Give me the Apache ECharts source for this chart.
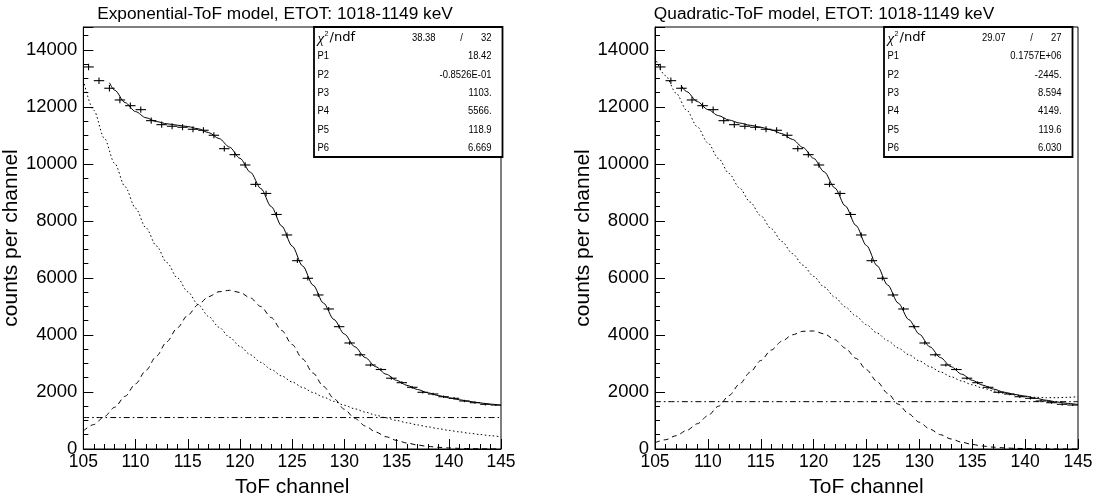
<!DOCTYPE html>
<html><head><meta charset="utf-8">
<script src="https://cdn.jsdelivr.net/npm/echarts@6/dist/echarts.min.js"></script>
<style>html,body{margin:0;padding:0;background:#fff}#c{width:1099px;height:504px}</style>
</head><body><div id="c"></div>
<script>
// ---- data ----
const binCenters = [105.5,106.5,107.5,108.5,109.5,110.5,111.5,112.5,113.5,114.5,115.5,116.5,117.5,118.5,119.5,120.5,121.5,122.5,123.5,124.5,125.5,126.5,127.5,128.5,129.5,130.5,131.5,132.5,133.5,134.5,135.5,136.5,137.5,138.5,139.5,140.5,141.5,142.5,143.5,144.5];
const counts = [13399,12918,12652,12241,12041,11901,11515,11375,11319,11284,11214,11178,11003,10533,10323,9961,9281,8962,8225,7506,6605,5987,5402,4911,4290,3718,3304,2946,2788,2483,2326,2164,1989,1929,1834,1778,1684,1624,1568,1543];
const errors = [116,114,112,111,110,109,107,107,106,106,106,106,105,103,102,100,96,95,91,87,81,77,73,70,65,61,57,54,53,50,48,47,45,44,43,42,41,40,40,39];

const curveX = [105,106,107,108,109,110,111,112,113,114,115,116,117,118,119,120,121,122,123,124,125,126,127,128,129,130,131,132,133,134,135,136,137,138,139,140,141,142,143,144,145];
const leftExp = [12935,11878,10907,10016,9197,8445,7755,7121,6539,6005,5514,5063,4649,4269,3920,3600,3306,3036,2788,2560,2351,2159,1982,1820,1671,1535,1409,1294,1188,1091,1002,920,845,776,713,654,601,552,507,465,427];
const leftGaus = [634,857,1133,1464,1849,2285,2759,3259,3764,4249,4691,5064,5345,5516,5565,5491,5297,4996,4608,4155,3663,3158,2662,2194,1768,1393,1073,809,595,429,302,208,140,92,59,37,23,14,8,5,3];
const leftConst = [1103,1103];
const constX = [105,145];
const totalX = [107.5,108,109,110,111,112,113,114,115,116,117,118,119,120,121,122,123,124,125,126,127,128,129,130,131,132,133,134,135,136,137,138,139,140,141,142,143,144,145];
const leftTotal = [12846,12583,12149,11833,11617,11483,11406,11357,11308,11230,11097,10888,10588,10194,9706,9135,8499,7818,7117,6420,5747,5117,4542,4031,3585,3206,2886,2623,2407,2231,2088,1971,1875,1794,1727,1669,1618,1573,1533];

const rightQuad = [13724,13092,12478,11880,11300,10737,10192,9663,9152,8658,8181,7721,7278,6853,6445,6054,5680,5323,4984,4661,4356,4068,3798,3544,3308,3089,2887,2702,2534,2384,2251,2135,2036,1954,1890,1842,1812,1799,1800,1812,1835];
const rightGaus = [221,326,467,652,885,1168,1500,1875,2279,2696,3102,3472,3781,4005,4128,4140,4039,3833,3539,3179,2779,2362,1954,1572,1231,938,695,501,351,240,159,103,65,39,23,14,8,4,2,1,0];
const rightConst = [1660,1660];
const rightTotal = [12731,12532,12185,11905,11692,11538,11431,11354,11283,11193,11059,10858,10573,10194,9719,9156,8523,7840,7135,6430,5752,5116,4539,4027,3582,3203,2885,2624,2410,2238,2101,1993,1913,1856,1780,1710,1650,1600,1560];

const xTickValues = [105,110,115,120,125,130,135,140,145];
const yTickValues = [0,2000,4000,6000,8000,10000,12000,14000];
const titles = ['Exponential-ToF model, ETOT: 1018-1149 keV','Quadratic-ToF model, ETOT: 1018-1149 keV'];
const statLabels = ['P1','P2','P3','P4','P5','P6'];
const leftChi = ['38.38','32'];
const leftPars = ['18.42','-0.8526E-01','1103.','5566.','118.9','6.669'];
const rightChi = ['29.07','27'];
const rightPars = ['0.1757E+06','-2445.','8.594','4149.','119.6','6.030'];
const xName = 'ToF channel';
const yName = 'counts per channel';

// ---- chart ----
const FONT = 'Liberation Sans, Arial, Helvetica, sans-serif';
const zip = (xs, ys) => xs.map((x, i) => [x, ys[i]]);
const histData = binCenters.map((x, i) => [x, counts[i], errors[i]]);

function renderErr(params, api) {
  const x = api.value(0), y = api.value(1), e = api.value(2);
  const l = api.coord([x - 0.5, y]), r = api.coord([x + 0.5, y]);
  const t = api.coord([x, y + e]), b = api.coord([x, y - e]);
  return {type: 'group', children: [
    {type: 'line', shape: {x1: l[0], y1: l[1], x2: r[0], y2: r[1]}, style: {stroke: '#000', lineWidth: 1.1}},
    {type: 'line', shape: {x1: t[0], y1: t[1], x2: b[0], y2: b[1]}, style: {stroke: '#000', lineWidth: 1.1}}
  ]};
}

const grids = [
  {left: 80, top: 27, width: 421, height: 422},
  {left: 655, top: 27, width: 423, height: 422}
];

function xAxisFor(i) {
  return {
    type: 'value', gridIndex: i, min: 105, max: 145, interval: 5,
    axisLine: {show: true, onZero: false, lineStyle: {color: '#000', width: 1}},
    axisTick: {show: true, inside: true, length: 10, lineStyle: {color: '#000', width: 1}},
    minorTick: {show: true, splitNumber: 5, length: 5, lineStyle: {color: '#000', width: 1}},
    splitLine: {show: false},
    axisLabel: {color: '#000', fontSize: 17.5, fontFamily: FONT, margin: 4,
      formatter: v => xTickValues.includes(v) ? String(v) : ''},
    name: xName, nameLocation: 'middle', nameGap: 28,
    nameTextStyle: {color: '#000', fontSize: 21, fontFamily: FONT}
  };
}
function yAxisFor(i) {
  return {
    type: 'value', gridIndex: i, min: 0, max: 14800, interval: 2000,
    axisLine: {show: true, onZero: false, lineStyle: {color: '#000', width: 1}},
    axisTick: {show: true, inside: true, length: 10, lineStyle: {color: '#000', width: 1}},
    minorTick: {show: true, splitNumber: 4, length: 5, lineStyle: {color: '#000', width: 1}},
    splitLine: {show: false},
    axisLabel: {color: '#000', fontSize: 18.5, fontFamily: FONT, margin: 6,
      formatter: v => yTickValues.includes(v) ? String(v) : ''},
    name: yName, nameLocation: 'middle', nameGap: 45, nameRotate: 90,
    nameTextStyle: {color: '#000', fontSize: 21, fontFamily: FONT}
  };
}

function lineSeries(i, data, dash, z) {
  return {type: 'line', xAxisIndex: i, yAxisIndex: i, data: data, showSymbol: false, symbol: 'none',
    smooth: 0.3, smoothMonotone: 'x', silent: true, z: z || 2,
    lineStyle: {color: '#000', width: 1, type: dash}};
}

const series = [];
series.push(lineSeries(0, zip(curveX, leftExp), [1.5, 2.5]));
series.push(lineSeries(0, zip(curveX, leftGaus), [5, 4]));
series.push(lineSeries(0, zip(constX, leftConst), [6, 3, 1.5, 3]));
series.push(lineSeries(0, zip(totalX, leftTotal), 'solid', 3));
series.push({type: 'custom', xAxisIndex: 0, yAxisIndex: 0, data: histData, renderItem: renderErr, silent: true, z: 4});
series.push(lineSeries(1, zip(curveX, rightQuad), [1.5, 2.5]));
series.push(lineSeries(1, zip(curveX, rightGaus), [5, 4]));
series.push(lineSeries(1, zip(constX, rightConst), [6, 3, 1.5, 3]));
series.push(lineSeries(1, zip(totalX, rightTotal), 'solid', 3));
series.push({type: 'custom', xAxisIndex: 1, yAxisIndex: 1, data: histData, renderItem: renderErr, silent: true, z: 4});

function txt(x, y, text, align, font, sx) {
  return {type: 'text', x: x, y: y, z: 100, scaleX: sx || 1,
    style: {text: text, font: font, fill: '#000', align: align, verticalAlign: 'middle',
            textAlign: align, textVerticalAlign: 'middle'}};
}
function statsBox(x0, y0, w, h, chi, pars) {
  const els = [];
  els.push({type: 'rect', z: 90, shape: {x: x0, y: y0, width: w, height: h},
    style: {fill: '#fff', stroke: '#000', lineWidth: 1.8}});
  const f = '11.5px ' + FONT;
  const SX = 0.82;
  const lx = x0 + 3.5, rx = x0 + w - 11;
  const rowY = k => y0 + 11 + 18.3 * k;
  els.push(txt(lx, rowY(0) + 1, 'χ', 'left', 'italic 15px Liberation Serif, serif'));
  els.push(txt(lx + 7, rowY(0) - 4, '2', 'left', '7px ' + FONT));
  els.push(txt(lx + 12, rowY(0), '/ndf', 'left', '12.5px DejaVu Sans, sans-serif', 1.05));
  els.push(txt(rx - 56, rowY(0), chi[0], 'right', f, SX));
  els.push(txt(rx - 30, rowY(0), '/', 'center', f, SX));
  els.push(txt(rx, rowY(0), chi[1], 'right', f, SX));
  for (let k = 0; k < pars.length; k++) {
    els.push(txt(lx, rowY(k + 1), statLabels[k], 'left', f, SX));
    els.push(txt(rx, rowY(k + 1), pars[k], 'right', f, SX));
  }
  return els;
}

const graphic = [
  txt(275, 14, titles[0], 'center', '17.3px ' + FONT),
  txt(824, 14, titles[1], 'center', '17.3px ' + FONT)
].concat(statsBox(314, 27, 188.5, 130, leftChi, leftPars))
 .concat(statsBox(884, 27, 188.5, 130, rightChi, rightPars));

const chart = echarts.init(document.getElementById('c'), null, {renderer: 'canvas'});
chart.setOption({
  animation: false,
  backgroundColor: '#fff',
  grid: grids.map(g => Object.assign({show: true, borderColor: '#000', borderWidth: 1, backgroundColor: 'rgba(0,0,0,0)'}, g)),
  xAxis: [xAxisFor(0), xAxisFor(1)],
  yAxis: [yAxisFor(0), yAxisFor(1)],
  series: series,
  graphic: graphic
});
</script>
</body></html>
